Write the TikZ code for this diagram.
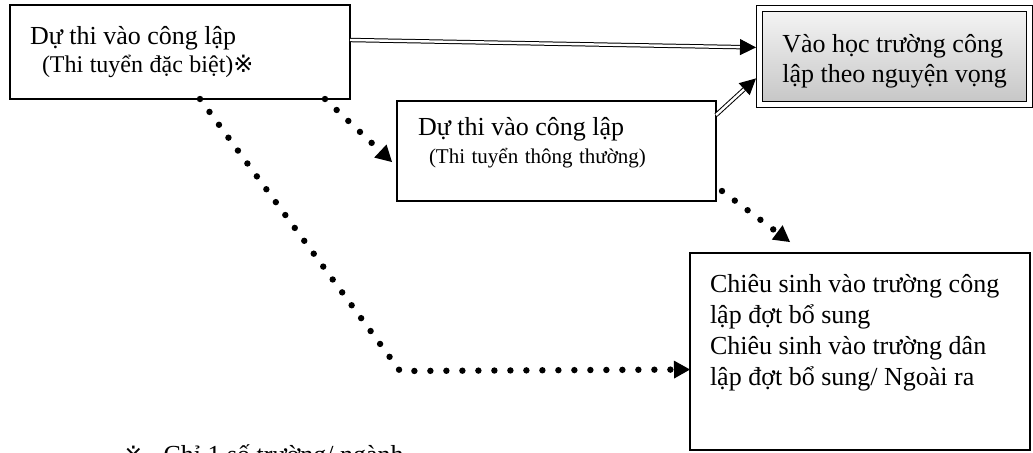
\documentclass[tikz,border=0pt]{standalone}
\usepackage{fontspec}
\setmainfont{Liberation Serif}
\newfontfamily\refmark{DejaVu Sans}
\usepackage{tikz}
\usetikzlibrary{arrows.meta}
\tikzstyle{exam}=[
	rectangle,
	draw=black,
	line width=0.7pt,
	anchor=north west,
	align=flush left,
	inner ysep=0pt,
	outer sep=0pt]
\tikzstyle{goal}=[
	rectangle,
	draw=black,
	line width=0.6pt,
	double=white,
	double distance=2.2pt,
	top color=gray!8,
	bottom color=gray!45,
	anchor=north west,
	align=flush left,
	inner ysep=0pt,
	outer sep=1.7pt]
\tikzstyle{dbllink}=[
	draw=black,
	line width=0.5pt,
	double=white,
	double distance=1.2pt,
	-{Triangle[length=8pt,width=8pt]}]
\tikzstyle{dotlink}=[
	draw=black,
	line width=3.2pt,
	line cap=round,
	dash pattern=on 0pt off 8pt,
	-{Triangle[length=8pt,width=9pt,line width=0pt]}]
\newcommand{\boxfont}[1]{\fontsize{13pt}{#1}\selectfont\spaceskip=3.25pt\relax}

\begin{document}
\begin{tikzpicture}[x=0.5pt,y=-0.5pt,>=latex]
	\useasboundingbox (0,0) rectangle (1033,452);
	% boxes
	\node[exam,inner xsep=10pt,text width=150pt,text height=19.5pt,text depth=27.5pt,font=\boxfont{14pt}] (special) at (10,5)
		{Dự thi vào công lập\\\hspace*{6pt}{\fontsize{12pt}{14pt}\selectfont(Thi tuyển đặc biệt)\refmark ※}};
	\node[exam,inner xsep=10.5pt,text width=138.5pt,text height=17pt,text depth=33pt,font=\boxfont{14pt}] (normal) at (397,101)
		{Dự thi vào công lập\\\hspace*{5.5pt}{\fontsize{10.5pt}{14pt}\selectfont(Thi tuyển thông thường)}};
	\node[goal,inner xsep=9.5pt,text width=116pt,text height=22pt,text depth=26pt,font=\boxfont{15pt}] (wish) at (756,5)
		{\hspace*{2pt}Vào học trường công\\\hspace*{2pt}lập theo nguyện vọng};
	\node[exam,inner xsep=10pt,text width=150pt,text height=19.5pt,text depth=79pt,font=\boxfont{15.5pt}] (extra) at (690,253)
		{Chiêu sinh vào trường công\\lập đợt bổ sung\\Chiêu sinh vào trường dân\\lập đợt bổ sung/ Ngoài ra};
	\node[anchor=base west,inner sep=0pt,font=\boxfont{14pt}] (note) at (123,463)
		{{\refmark\fontsize{12pt}{12pt}\selectfont ※}\hspace{10pt}Chỉ 1 số trường/ ngành};
	% links
	\coordinate (bend) at (400,371);
	\draw[dbllink] ([yshift=6pt]special.east) -- ([yshift=4.5pt]wish.west);
	\draw[dbllink] ([yshift=-7pt]normal.north east) -- ([yshift=-11pt]wish.west);
	\draw[dotlink] ([xshift=72.5pt]special.south) -- ([xshift=-2.5pt,yshift=-5.5pt]normal.west);
	\draw[dotlink] ([xshift=10pt]special.south) -- (bend) -- ([yshift=-9pt]extra.west);
	\draw[dotlink] ([xshift=3pt,yshift=5pt]normal.south east) -- ([xshift=50pt,yshift=5.5pt]extra.north west);
\end{tikzpicture}
\end{document}
